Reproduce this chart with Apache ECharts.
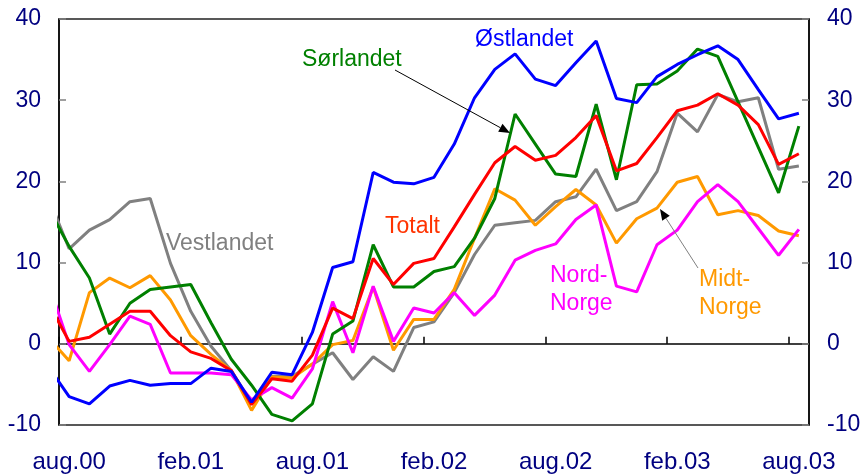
<!DOCTYPE html>
<html>
<head>
<meta charset="utf-8">
<script src="https://cdn.jsdelivr.net/npm/echarts@6/dist/echarts.min.js"></script>
<style>
  html, body { margin: 0; padding: 0; background: #fff; }
  #myChart { width: 864px; height: 474px; }
</style>
</head>
<body>
<div id="myChart"></div>
<script>
// months, one point per month (mid-month), first one is cut at the axis
const months = [
  "jul.00", "aug.00", "sep.00", "okt.00", "nov.00", "des.00",
  "jan.01", "feb.01", "mar.01", "apr.01", "mai.01", "jun.01",
  "jul.01", "aug.01", "sep.01", "okt.01", "nov.01", "des.01",
  "jan.02", "feb.02", "mar.02", "apr.02", "mai.02", "jun.02",
  "jul.02", "aug.02", "sep.02", "okt.02", "nov.02", "des.02",
  "jan.03", "feb.03", "mar.03", "apr.03", "mai.03", "jun.03",
  "jul.03", "aug.03"
];
const tickLabels = ["aug.00", "feb.01", "aug.01", "feb.02", "aug.02", "feb.03", "aug.03"];

const vestlandet = [
  17.9, 11.7, 14.0, 15.3, 17.5, 17.9, 9.9, 4.0, -0.3, -3.3,
  -7.3, -4.0, -4.0, -2.5, -1.1, -4.4, -1.6, -3.4, 2.0, 2.7,
  6.3, 11.0, 14.6, 14.9, 15.2, 17.5, 18.1, 21.5, 16.4, 17.5,
  21.2, 28.4, 26.1, 30.7, 29.8, 30.3, 21.5, 21.9
];
const midtNorge = [
  0.7, -2.1, 6.3, 8.1, 6.9, 8.4, 5.4, 1.0, -1.3, -3.3,
  -8.2, -4.1, -4.2, -2.5, -0.1, 0.4, 7.0, -0.8, 3.0, 3.0,
  6.7, 13.0, 19.1, 17.7, 14.6, 16.9, 19.0, 17.1, 12.4, 15.4,
  16.7, 19.9, 20.6, 15.9, 16.4, 15.8, 13.9, 13.3
];
const nordNorge = [
  7.3, -0.1, -3.4, -0.1, 3.4, 2.4, -3.6, -3.6, -3.6, -3.8,
  -6.9, -5.4, -6.7, -3.1, 5.2, -1.1, 7.1, 0.3, 4.4, 3.8,
  6.3, 3.5, 6.0, 10.3, 11.5, 12.3, 15.3, 17.1, 7.1, 6.4,
  12.2, 14.0, 17.5, 19.6, 17.5, 14.2, 10.9, 14.1
];
const sorlandet = [
  16.6, 12.0, 8.1, 1.2, 5.0, 6.7, 7.0, 7.3, 2.6, -1.9,
  -5.1, -8.7, -9.5, -7.4, 1.2, 2.8, 12.2, 7.0, 7.0, 8.9,
  9.5, 13.0, 17.9, 28.3, 24.6, 20.9, 20.6, 29.5, 20.2, 31.9,
  32.0, 33.6, 36.3, 35.4, 29.8, 24.2, 18.6, 26.8
];
const totalt = [
  4.9, 0.3, 0.8, 2.4, 4.0, 4.0, 1.0, -1.0, -1.8, -3.3,
  -7.5, -4.3, -4.6, -1.4, 4.4, 3.1, 10.5, 7.3, 9.9, 10.5,
  14.4, 18.4, 22.3, 24.3, 22.6, 23.2, 25.4, 28.1, 21.3, 22.2,
  25.4, 28.7, 29.4, 30.8, 29.4, 27.0, 22.1, 23.4
];
const ostlandet = [
  -2.9, -6.5, -7.4, -5.2, -4.5, -5.1, -4.9, -4.9, -3.0, -3.4,
  -7.2, -3.5, -3.8, 1.4, 9.4, 10.1, 21.1, 19.9, 19.7, 20.5,
  24.6, 30.3, 33.8, 35.7, 32.6, 31.8, 34.6, 37.3, 30.2, 29.7,
  32.9, 34.4, 35.6, 36.7, 35.0, 31.3, 27.7, 28.4
];

const font = "'Liberation Sans', Arial, sans-serif";
const navy = "#000080";

// month index -> axis position (aug.00 starts at 0, points in the middle of the month)
function toPoints(values) {
  return values.map((v, i) => [i - 0.5, v]);
}
const tickValues = tickLabels.map((l) => months.indexOf(l) - 1);
const labelValues = tickValues.map((v) => v + 0.5); // labels sit mid-month

function line(name, values, color) {
  return {
    name: name,
    type: "line",
    data: toPoints(values),
    symbol: "none",
    clip: true,
    lineStyle: { color: color, width: 3 },
    itemStyle: { color: color },
  };
}

function yAxis(pos) {
  return {
    type: "value",
    position: pos,
    min: -10,
    max: 40,
    interval: 10,
    splitLine: { show: false },
    axisLine: { show: true, lineStyle: { color: "#000", width: 1.5 } },
    axisTick: { show: true, inside: true, length: 7, lineStyle: { color: "#808080", width: 1.5 } },
    axisLabel: { color: navy, fontSize: 23, fontFamily: font, margin: 18 },
  };
}

// label text + arrows
function arrow(x1, y1, x2, y2, lineColor) {
  const a = Math.atan2(y2 - y1, x2 - x1);
  const len = 11, w = 4.5;
  const bx = x2 - len * Math.cos(a), by = y2 - len * Math.sin(a);
  return [
    { type: "line", shape: { x1: x1, y1: y1, x2: bx, y2: by }, style: { stroke: lineColor, lineWidth: 1 }, z: 100 },
    {
      type: "polygon",
      shape: { points: [[x2, y2], [bx - w * Math.sin(a), by + w * Math.cos(a)], [bx + w * Math.sin(a), by - w * Math.cos(a)]] },
      style: { fill: "#000" },
      z: 100,
    },
  ];
}
function label(text, x, y, color) {
  return {
    type: "text",
    x: x,
    y: y,
    z: 100,
    style: { text: text, fill: color, font: "23px " + font, textVerticalAlign: "middle", lineHeight: 28 },
  };
}

const chart = echarts.init(document.getElementById("myChart"), null, { renderer: "canvas" });
chart.setOption({
  animation: false,
  backgroundColor: "#fff",
  grid: {
    left: 59, right: 55, top: 19, bottom: 46,
    show: true, borderColor: "#222", borderWidth: 1.5,
  },
  xAxis: {
    type: "value",
    min: 0,
    max: 37,
    interval: 6,
    splitLine: { show: false },
    axisLine: { show: true, lineStyle: { color: "#000", width: 1.5 } },
    axisTick: { show: true, inside: true, length: 7, customValues: tickValues, lineStyle: { color: "#000", width: 1.5 } },
    axisLabel: {
      color: navy, fontSize: 24, fontFamily: font, margin: 25,
      customValues: labelValues,
      formatter: (v) => tickLabels[labelValues.indexOf(v)] || "",
    },
  },
  yAxis: [yAxis("left"), yAxis("right")],
  series: [
    line("Vestlandet", vestlandet, "#808080"),
    line("Midt-Norge", midtNorge, "#FF9900"),
    line("Nord-Norge", nordNorge, "#FF00FF"),
    line("Sørlandet", sorlandet, "#008000"),
    line("Totalt", totalt, "#FF0000"),
    line("Østlandet", ostlandet, "#0000FF"),
  ],
  graphic: [
    label("Østlandet", 475, 40, "#0000FF"),
    label("Sørlandet", 302, 60, "#008000"),
    label("Vestlandet", 166, 244, "#808080"),
    label("Totalt", 385, 227, "#FF3300"),
    label("Nord-\nNorge", 550, 290, "#FF00FF"),
    label("Midt-\nNorge", 699, 294, "#FF9900"),
    ...arrow(395, 70, 510, 133, "#000"),
    ...arrow(698, 268, 660, 209, "#808080"),
  ],
});
</script>
</body>
</html>
